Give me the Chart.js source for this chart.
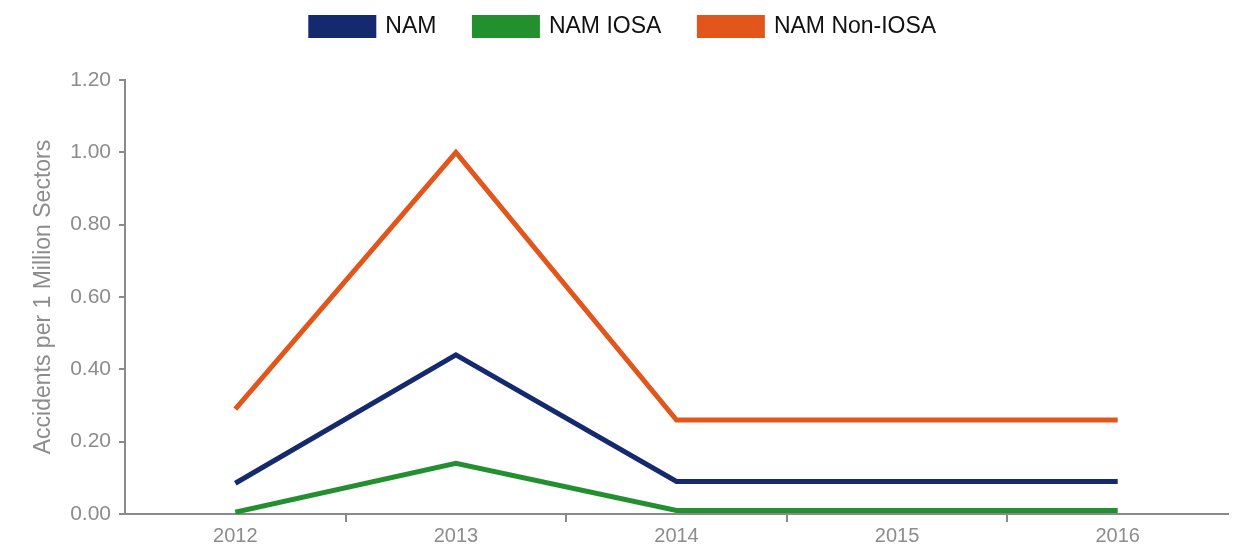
<!DOCTYPE html>
<html>
<head>
<meta charset="utf-8">
<script src="https://cdn.jsdelivr.net/npm/chart.js@4/dist/chart.umd.min.js"></script>
<style>
html,body{margin:0;padding:0;background:#fff;}
#wrap{width:1244px;height:546px;position:relative;}
</style>
</head>
<body>
<div id="wrap"><canvas id="c" width="1244" height="546"></canvas></div>
<script>
const years = ["2012", "2013", "2014", "2015", "2016"];
const namValues = [0.085, 0.44, 0.09, 0.09, 0.09];
const iosaValues = [0.005, 0.14, 0.01, 0.01, 0.01];
const nonIosaValues = [0.29, 1.00, 0.26, 0.26, 0.26];
const seriesNames = ["NAM", "NAM IOSA", "NAM Non-IOSA"];
const yTitle = "Accidents per 1 Million Sectors";

const navy = "#15296e", green = "#22902f", orange = "#e2561b";
const axisGray = "#8a8a8a", textGray = "#8c8c8c";
const FONT = "'Liberation Sans', Arial, sans-serif";

function ds(label, data, color) {
  return { label, data, borderColor: color, backgroundColor: color, borderWidth: 5,
    pointRadius: 0, pointHoverRadius: 0, tension: 0, fill: false,
    borderCapStyle: "butt", borderJoinStyle: "miter" };
}

new Chart(document.getElementById("c"), {
  type: "line",
  data: {
    labels: years,
    datasets: [
      ds(seriesNames[0], namValues, navy),
      ds(seriesNames[1], iosaValues, green),
      ds(seriesNames[2], nonIosaValues, orange)
    ]
  },
  options: {
    responsive: false,
    animation: false,
    layout: { padding: { top: -23, right: 16, bottom: 0, left: 19 } },
    plugins: {
      tooltip: { enabled: false },
      legend: {
        position: "top",
        labels: {
          boxWidth: 63, boxHeight: 18, padding: 38,
          color: "#111",
          font: { family: FONT, size: 23 }
        }
      },
      title: {
        display: true, text: "", weight: 500,
        font: { size: 10 }, padding: { top: 20, bottom: 0 }
      }
    },
    scales: {
      x: {
        type: "category",
        offset: true,
        border: { display: true, color: axisGray, width: 2 },
        grid: {
          display: true, offset: true, drawOnChartArea: false, drawTicks: true, tickLength: 8,
          color: (ctx) => (ctx.type === "tick" && ctx.index > 0 && ctx.index < years.length) ? axisGray : "rgba(0,0,0,0)",
          lineWidth: 2
        },
        ticks: { color: textGray, padding: 2, font: { family: FONT, size: 20 } },
        afterFit: (s) => { s.height = 32; }
      },
      y: {
        min: 0, max: 1.2,
        border: { display: true, color: axisGray, width: 2 },
        grid: { display: true, drawOnChartArea: false, drawTicks: true, tickLength: 6, color: axisGray, lineWidth: 2 },
        ticks: {
          stepSize: 0.2, color: textGray, padding: 8,
          font: { family: FONT, size: 21 },
          callback: (v) => Number(v).toFixed(2)
        },
        title: {
          display: true, text: yTitle, color: textGray, padding: { top: 11, bottom: 0 },
          font: { family: FONT, size: 23 }
        },
        afterFit: (s) => { s.width = 106; }
      }
    }
  }
});
</script>
</body>
</html>
